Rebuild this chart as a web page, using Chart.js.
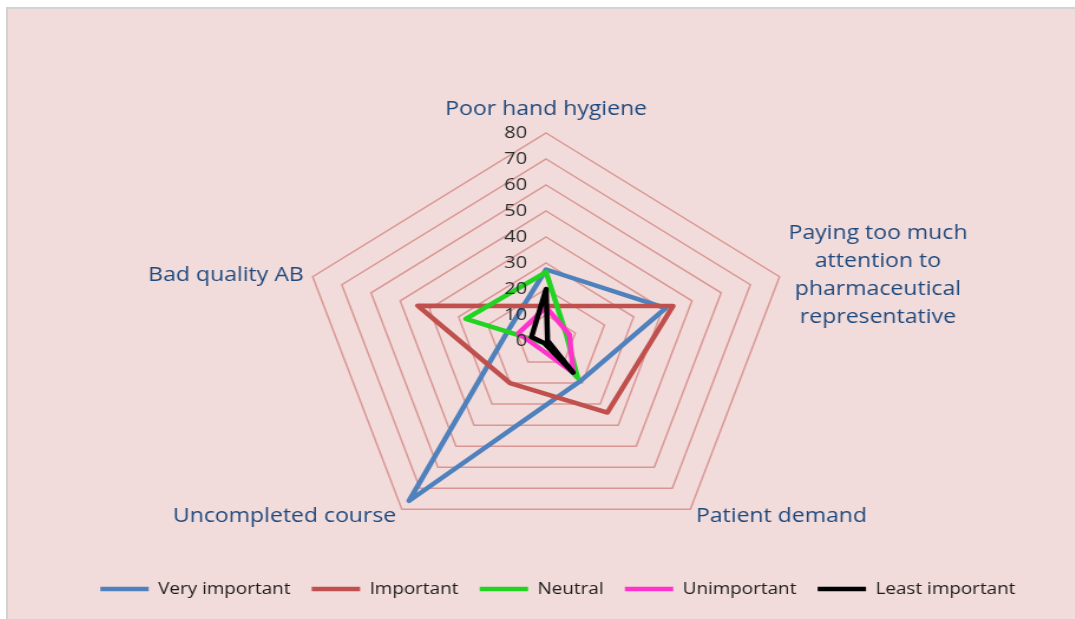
<!DOCTYPE html>
<html>
<head>
<meta charset="utf-8">
<script src="https://cdn.jsdelivr.net/npm/chart.js@4/dist/chart.umd.min.js"></script>
<style>
    html, body { margin: 0; padding: 0; background: #ffffff; }
    #frame {
        position: absolute; left: 6px; top: 7px; right: 0; bottom: 0;
        background: #F2DCDB;
        border-left: 2px solid #D2D2D2;
        border-top: 2px solid #D2D2D2;
        overflow: hidden;
    }
    /* the picture is stretched sideways, so the whole chart is too */
    #wrap {
        position: absolute; left: 0; top: 0;
        width: 904px; height: 610px;
        transform: scaleX(1.18); transform-origin: 0 0;
    }
</style>
</head>
<body>
<div id="frame">
    <div id="wrap"><canvas id="radarChart"></canvas></div>
</div>
<script>
// axis categories, clockwise from the top
const categories = [
    "Poor hand hygiene",
    ["Paying too much", "attention to", "pharmaceutical", "representative"],
    "Patient demand",
    "Uncompleted course",
    "Bad quality AB"
];

const veryImportant = [27.5, 41, 19, 76, 13];
const important = [13.5, 43.5, 34, 20, 44];
const neutral = [26.5, 7, 17.5, 1, 27.5];
const unimportant = [13, 8, 15, 3.5, 9.5];
const leastImportant = [20, 0.5, 15, 1, 5];

const tickMin = 0;
const tickMax = 80;
const tickStep = 10;

const seriesNames = ["Very important", "Important", "Neutral", "Unimportant", "Least important"];
const seriesData = [veryImportant, important, neutral, unimportant, leastImportant];
const seriesColors = ["#4F81BD", "#C0504D", "#22D322", "#FF33CC", "#000000"];

const FONT = '"Open Sans", "Noto Sans", sans-serif';

// Tick labels sit left of the vertical axis and the category labels are
// drawn here so they can be placed like the original
const excelLabels = {
    id: "excelLabels",
    afterDraw(chart) {
        const r = chart.scales.r;
        const ctx = chart.ctx;
        ctx.save();

        ctx.font = "17px " + FONT;
        ctx.fillStyle = "#2b2b2b";
        ctx.textAlign = "right";
        ctx.textBaseline = "middle";
        r.ticks.forEach(t => {
            ctx.fillText(t.label, r.xCenter - 16, r.yCenter - r.getDistanceFromCenterForValue(t.value));
        });

        ctx.font = "19.5px " + FONT;
        ctx.fillStyle = "#1F497D";
        ctx.textAlign = "center";
        const lineHeight = 28;
        chart.data.labels.forEach((label, i) => {
            const lines = [].concat(label);
            const p = r.getPointPosition(i, r.drawingArea + 8);
            const maxW = Math.max(...lines.map(l => ctx.measureText(l).width));
            const dx = p.x - r.xCenter;
            let x = p.x;
            let yMid = p.y;
            if (Math.abs(dx) < 1) {
                yMid = p.y - 17;
            } else if (dx > 0) {
                x = p.x + maxW / 2;
            } else {
                x = p.x - maxW / 2;
            }
            lines.forEach((line, j) => {
                ctx.fillText(line, x, yMid + 1 + (j - (lines.length - 1) / 2) * lineHeight);
            });
        });
        ctx.restore();
    }
};

const ctx = document.getElementById("radarChart").getContext("2d");

new Chart(ctx, {
    type: "radar",
    data: {
        labels: categories,
        datasets: seriesNames.map((name, i) => ({
            label: name,
            data: seriesData[i],
            borderColor: seriesColors[i],
            backgroundColor: seriesColors[i],
            borderWidth: 4.5,
            borderJoinStyle: "round",
            borderCapStyle: "round",
            pointRadius: 0,
            pointHoverRadius: 0,
            fill: false,
            tension: 0,
            order: seriesNames.length - i   // later series drawn on top
        }))
    },
    options: {
        responsive: true,
        maintainAspectRatio: false,
        animation: false,
        layout: { padding: { left: 28, bottom: 12 } },
        plugins: {
            tooltip: { enabled: false },
            legend: {
                position: "bottom",
                labels: {
                    usePointStyle: true,
                    pointStyle: "line",
                    pointStyleWidth: 41,
                    padding: 18,
                    color: "#1a1a1a",
                    font: { size: 16, family: FONT },
                    sort: (a, b) => a.datasetIndex - b.datasetIndex
                }
            }
        },
        scales: {
            r: {
                min: tickMin,
                max: tickMax,
                ticks: { stepSize: tickStep, display: false },
                angleLines: { display: false },
                grid: { color: "#D99694", lineWidth: 1.5 },
                pointLabels: { display: false },
                afterFit(scale) {
                    scale.xCenter = 456;
                    scale.yCenter = 332;
                    scale.drawingArea = 208;
                }
            }
        }
    },
    plugins: [excelLabels]
});
</script>
</body>
</html>
